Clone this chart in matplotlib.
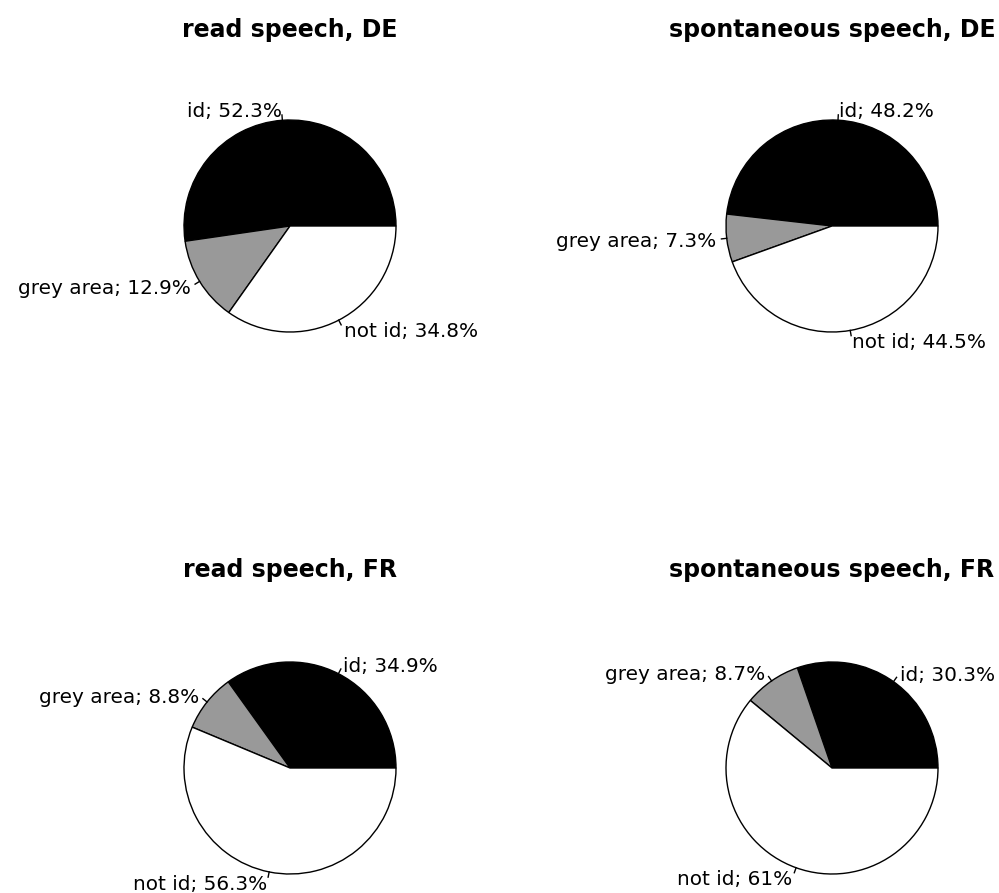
import matplotlib
matplotlib.use("Agg")
import matplotlib.pyplot as plt
import numpy as np

# data
categories = ["id", "grey area", "not id"]
titles = ["read speech, DE", "spontaneous speech, DE",
          "read speech, FR", "spontaneous speech, FR"]
read_de = [52.3, 12.9, 34.8]
spont_de = [48.2, 7.3, 44.5]
read_fr = [34.9, 8.8, 56.3]
spont_fr = [30.3, 8.7, 61.0]
panels = [read_de, spont_de, read_fr, spont_fr]

# layout (pixels, rows measured from top)
W, H = 999, 893
centers = [(290, 226), (832, 226), (290, 768), (832, 768)]
title_base = [37, 37, 577, 577]
R = 106
colors = ["black", "#999999", "white"]

plt.rcParams["font.family"] = ["DejaVu Sans"]

fig = plt.figure(figsize=(W / 100, H / 100), dpi=100)
ax = fig.add_axes([0, 0, 1, 1])

for vals, title, (cx, cy), tb in zip(panels, titles, centers, title_base):
    labs = ["%s; %g%%" % (c, v) for c, v in zip(categories, vals)]
    cyd = H - cy
    wedges, texts = ax.pie(vals, labels=labs, colors=colors, startangle=0,
                           counterclock=True, radius=R, center=(cx, cyd),
                           labeldistance=1.1,
                           wedgeprops=dict(edgecolor="black", linewidth=1.0),
                           textprops=dict(fontsize=14.4, color="black"))
    for w, t in zip(wedges, texts):
        a = np.deg2rad((w.theta1 + w.theta2) / 2)
        # R style: left-aligned on the right half, right-aligned on the left
        t.set_ha("left" if np.cos(a) >= 0 else "right")
        t.set_va("center_baseline")
        ax.plot([cx + R * np.cos(a), cx + 1.05 * R * np.cos(a)],
                [cyd + R * np.sin(a), cyd + 1.05 * R * np.sin(a)],
                color="black", lw=1.0)
    ax.text(cx, H - tb, title, ha="center", va="baseline",
            fontsize=17, fontweight="bold")

ax.set_xlim(0, W)
ax.set_ylim(0, H)
ax.set_aspect("auto")
ax.axis("off")

fig.savefig("out.png", dpi=100)
